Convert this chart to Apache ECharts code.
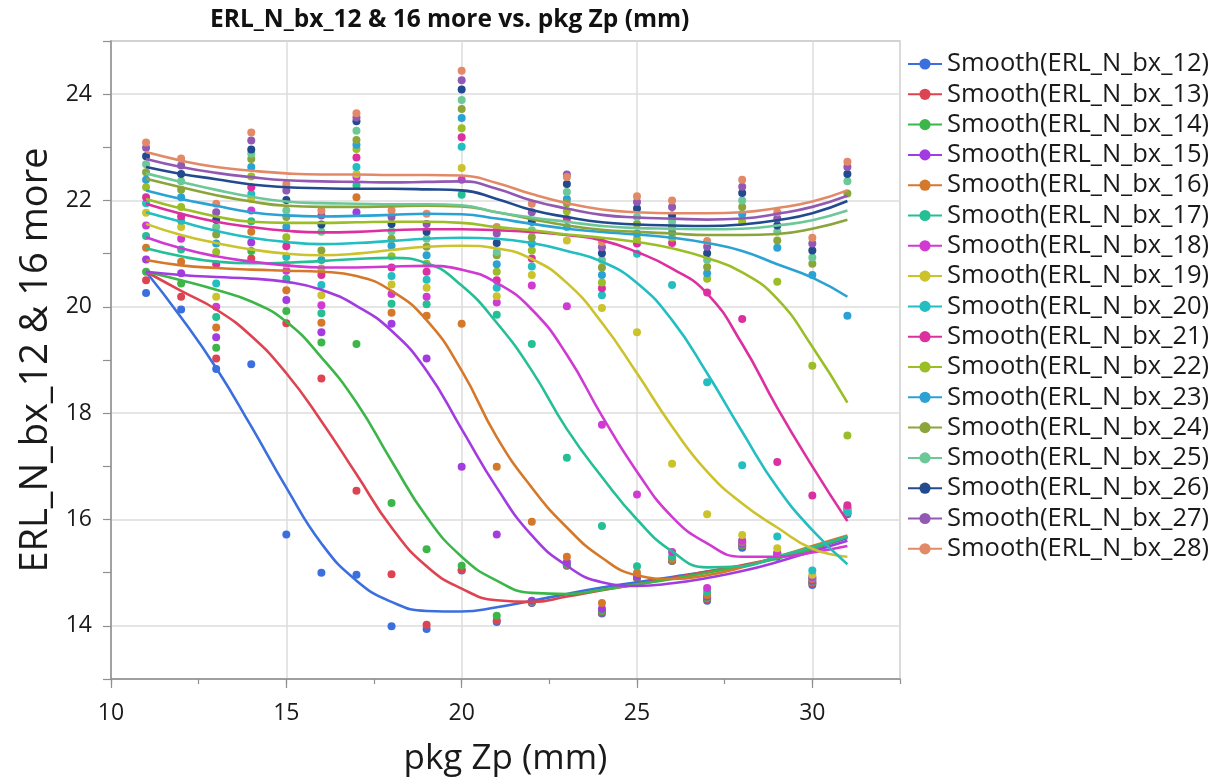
<!DOCTYPE html>
<html lang="en">
<head>
<meta charset="UTF-8">
<title>ERL_N_bx_12 &amp; 16 more vs. pkg Zp (mm)</title>
<script src="https://cdn.jsdelivr.net/npm/echarts@6.0.0/dist/echarts.min.js"></script>
<style>
    html, body { margin: 0; padding: 0; background: #fff; }
    #chart { width: 1215px; height: 782px; }
</style>
</head>
<body>
<div id="chart"></div>
<script>
    // pkg Zp (mm) columns
    const zp = [11, 12, 13, 14, 15, 16, 17, 18, 19, 20, 21, 22, 23, 24, 25, 26, 27, 28, 29, 30, 31];

    // measured points, one array per ERL_N_bx_nn
    const pts12 = [20.26, 19.95, 18.83, 18.92, 15.72, 15.0, 14.96, 13.99, 13.94, 15.04, 14.07, 14.43, 15.13, 14.23, 14.9, 15.22, 14.47, 15.47, 15.3, 14.77, 16.1];
    const pts13 = [20.5, 20.19, 19.03, 20.91, 19.69, 18.65, 16.54, 14.97, 14.02, 15.05, 14.1, 14.44, 15.14, 14.25, 14.9, 15.23, 14.5, 15.5, 15.32, 14.8, 16.12];
    const pts14 = [20.66, 20.44, 19.23, 21.05, 19.92, 19.33, 19.3, 16.31, 15.44, 15.13, 14.19, 14.45, 15.15, 14.28, 14.92, 15.23, 14.52, 15.52, 15.33, 14.82, 16.14];
    const pts15 = [20.89, 20.63, 19.43, 21.21, 20.13, 19.52, 21.78, 19.68, 19.03, 16.99, 15.72, 14.47, 15.2, 14.32, 14.93, 15.24, 14.55, 15.55, 15.34, 14.85, 16.16];
    const pts16 = [21.11, 20.85, 19.61, 21.41, 20.31, 19.7, 22.06, 19.89, 19.83, 19.68, 16.99, 15.96, 15.3, 14.43, 15.0, 15.25, 14.58, 15.57, 15.35, 14.88, 16.18];
    const pts17 = [21.33, 21.08, 19.81, 21.61, 20.53, 19.88, 22.28, 20.06, 20.05, 22.11, 19.85, 19.3, 17.16, 15.88, 15.12, 15.3, 14.64, 15.6, 15.36, 14.9, 16.2];
    const pts18 = [21.53, 21.28, 20.0, 21.81, 20.68, 20.03, 22.44, 20.24, 20.19, 22.39, 20.08, 20.4, 20.01, 17.78, 16.47, 15.39, 14.71, 15.6, 15.37, 14.92, 16.22];
    const pts19 = [21.77, 21.5, 20.19, 22.03, 20.8, 20.22, 22.5, 20.42, 20.36, 22.61, 20.2, 20.6, 21.25, 19.98, 19.52, 17.05, 16.1, 15.71, 15.46, 14.96, 16.15];
    const pts20 = [21.95, 21.62, 20.44, 22.12, 20.94, 20.41, 22.63, 20.58, 20.51, 23.01, 20.36, 20.76, 21.5, 20.22, 21.0, 20.41, 18.58, 17.02, 15.68, 15.04, 16.13];
    const pts21 = [22.06, 21.7, 20.8, 22.25, 21.14, 20.6, 22.81, 20.74, 20.66, 23.19, 20.5, 20.91, 21.65, 20.35, 21.19, 21.2, 20.27, 19.77, 17.08, 16.45, 16.27];
    const pts22 = [22.25, 21.88, 21.03, 22.45, 21.31, 20.72, 22.97, 20.95, 20.81, 23.36, 20.66, 21.06, 21.8, 20.46, 21.28, 21.3, 20.53, 21.6, 20.47, 18.89, 17.58];
    const pts23 = [22.39, 22.06, 21.19, 22.63, 21.5, 20.88, 23.05, 21.15, 20.97, 23.55, 20.8, 21.19, 22.03, 20.6, 21.38, 21.4, 20.63, 21.74, 21.11, 20.6, 19.83];
    const pts24 = [22.53, 22.2, 21.36, 22.78, 21.69, 21.06, 23.14, 21.28, 21.13, 23.72, 20.97, 21.31, 21.95, 20.74, 21.56, 21.5, 20.75, 21.88, 21.25, 20.81, 22.13];
    const pts25 = [22.68, 22.36, 21.5, 22.88, 21.81, 21.41, 23.31, 21.42, 21.28, 23.89, 21.03, 21.44, 22.16, 20.88, 21.69, 21.6, 20.88, 22.0, 21.41, 20.93, 22.36];
    const pts26 = [22.83, 22.5, 21.64, 22.96, 22.01, 21.55, 23.49, 21.56, 21.41, 24.09, 21.2, 21.6, 22.31, 21.01, 21.85, 21.72, 21.01, 22.14, 21.53, 21.06, 22.5];
    const pts27 = [22.99, 22.66, 21.78, 23.13, 22.19, 21.72, 23.56, 21.69, 21.56, 24.26, 21.38, 21.78, 22.49, 21.12, 21.97, 21.88, 21.13, 22.26, 21.66, 21.19, 22.63];
    const pts28 = [23.09, 22.79, 21.94, 23.28, 22.31, 21.81, 23.64, 21.81, 21.75, 24.44, 21.5, 21.94, 22.44, 21.22, 22.08, 22.0, 21.24, 22.39, 21.78, 21.3, 22.73];

    // smoother values at each column
    const fit12 = [20.66, 19.8, 18.85, 17.75, 16.6, 15.55, 14.85, 14.45, 14.28, 14.27, 14.35, 14.47, 14.6, 14.72, 14.82, 14.92, 15.02, 15.13, 15.27, 15.45, 15.65];
    const fit13 = [20.66, 20.3, 19.95, 19.45, 18.75, 17.85, 16.85, 15.85, 15.12, 14.7, 14.48, 14.45, 14.55, 14.67, 14.78, 14.9, 15.02, 15.14, 15.28, 15.45, 15.68];
    const fit14 = [20.66, 20.5, 20.32, 20.1, 19.72, 19.05, 18.2, 17.1, 16.05, 15.3, 14.85, 14.62, 14.6, 14.68, 14.78, 14.88, 15.0, 15.12, 15.27, 15.45, 15.68];
    const fit15 = [20.66, 20.6, 20.56, 20.53, 20.47, 20.32, 20.02, 19.55, 18.8, 17.7, 16.6, 15.7, 15.13, 14.82, 14.75, 14.8, 14.9, 15.03, 15.2, 15.4, 15.6];
    const fit16 = [20.88, 20.78, 20.73, 20.7, 20.68, 20.66, 20.58, 20.3, 19.75, 18.8, 17.55, 16.6, 15.85, 15.28, 14.95, 14.88, 14.95, 15.1, 15.3, 15.5, 15.7];
    const fit17 = [21.1, 20.95, 20.85, 20.82, 20.83, 20.86, 20.9, 20.92, 20.82, 20.4, 19.7, 18.8, 17.7, 16.8, 16.0, 15.4, 15.1, 15.12, 15.3, 15.48, 15.68];
    const fit18 = [21.31, 21.1, 20.95, 20.85, 20.78, 20.74, 20.74, 20.76, 20.77, 20.7, 20.45, 19.95, 19.1, 17.95, 16.9, 16.05, 15.55, 15.3, 15.3, 15.38, 15.5];
    const fit19 = [21.56, 21.35, 21.2, 21.08, 21.0, 20.97, 21.0, 21.07, 21.13, 21.15, 21.1, 20.9, 20.45, 19.7, 18.75, 17.75, 16.9, 16.3, 15.85, 15.45, 15.3];
    const fit20 = [21.78, 21.6, 21.43, 21.3, 21.22, 21.18, 21.2, 21.24, 21.28, 21.3, 21.28, 21.2, 21.05, 20.85, 20.45, 19.75, 18.75, 17.65, 16.6, 15.8, 15.16];
    const fit21 = [21.94, 21.75, 21.6, 21.5, 21.43, 21.4, 21.41, 21.44, 21.46, 21.46, 21.44, 21.41, 21.35, 21.25, 21.03, 20.72, 20.25, 19.3, 18.1, 17.0, 15.97];
    const fit22 = [22.03, 21.85, 21.7, 21.6, 21.58, 21.58, 21.59, 21.6, 21.6, 21.58, 21.5, 21.44, 21.36, 21.3, 21.22, 21.1, 20.92, 20.65, 20.15, 19.25, 18.2];
    const fit23 = [22.19, 22.03, 21.9, 21.78, 21.72, 21.7, 21.71, 21.73, 21.75, 21.74, 21.66, 21.56, 21.47, 21.41, 21.36, 21.3, 21.2, 21.05, 20.8, 20.55, 20.19];
    const fit24 = [22.41, 22.25, 22.1, 21.98, 21.9, 21.88, 21.88, 21.89, 21.9, 21.89, 21.78, 21.65, 21.53, 21.45, 21.41, 21.38, 21.35, 21.35, 21.37, 21.47, 21.64];
    const fit25 = [22.51, 22.35, 22.2, 22.07, 21.98, 21.95, 21.94, 21.93, 21.93, 21.91, 21.78, 21.68, 21.6, 21.52, 21.48, 21.47, 21.46, 21.47, 21.53, 21.63, 21.81];
    const fit26 = [22.63, 22.5, 22.4, 22.3, 22.25, 22.23, 22.22, 22.22, 22.21, 22.19, 22.03, 21.82, 21.69, 21.59, 21.55, 21.53, 21.52, 21.55, 21.63, 21.76, 21.99];
    const fit27 = [22.78, 22.63, 22.52, 22.44, 22.38, 22.36, 22.35, 22.34, 22.35, 22.36, 22.22, 22.0, 21.85, 21.73, 21.68, 21.66, 21.64, 21.66, 21.75, 21.88, 22.09];
    const fit28 = [22.91, 22.75, 22.63, 22.56, 22.51, 22.49, 22.49, 22.48, 22.48, 22.47, 22.33, 22.12, 21.95, 21.83, 21.78, 21.76, 21.76, 21.78, 21.86, 21.98, 22.19];

    const bxIds = [12, 13, 14, 15, 16, 17, 18, 19, 20, 21, 22, 23, 24, 25, 26, 27, 28];
    const bxColors = ['#3c6fde', '#dd4350', '#3db649', '#a33ce0', '#d6782a', '#24bf95', '#d03ad3', '#ccc22c',
        '#22bec2', '#dc2fa0', '#9bbe27', '#2aa2d4', '#8ba53a', '#6dc898', '#224a8f', '#9159b3', '#e28a68'];
    const ptsList = [pts12, pts13, pts14, pts15, pts16, pts17, pts18, pts19, pts20, pts21, pts22, pts23, pts24, pts25, pts26, pts27, pts28];
    const fitList = [fit12, fit13, fit14, fit15, fit16, fit17, fit18, fit19, fit20, fit21, fit22, fit23, fit24, fit25, fit26, fit27, fit28];

    const fontName = '"Open Sans", "Noto Sans", sans-serif';
    const axisGray = '#8f8f8f';
    const gridGray = '#dcdcdc';

    const chart = echarts.init(document.getElementById('chart'));

    let series = [];
    // dots first, smoothers drawn on top
    bxIds.forEach((id, i) => {
        series.push({
            name: 'ERL_N_bx_' + id,
            type: 'scatter',
            data: zp.map((x, j) => [x, ptsList[i][j]]),
            symbolSize: 8,
            itemStyle: {color: bxColors[i], opacity: 1},
            silent: true,
            z: 2
        });
    });
    bxIds.forEach((id, i) => {
        series.push({
            name: 'Smooth(ERL_N_bx_' + id + ')',
            type: 'line',
            data: zp.map((x, j) => [x, fitList[i][j]]),
            smooth: 0.5,
            symbol: 'none',
            showSymbol: false,
            lineStyle: {color: bxColors[i], width: 2.6},
            itemStyle: {color: bxColors[i]},
            silent: true,
            z: 3
        });
    });

    const option = {
        animation: false,
        backgroundColor: '#fff',
        title: {
            text: 'ERL_N_bx_12 & 16 more vs. pkg Zp (mm)',
            left: 205,
            top: 3,
            textStyle: {fontFamily: fontName, fontSize: 24.5, fontWeight: 'bold', color: '#111'}
        },
        legend: {
            orient: 'vertical',
            left: 902,
            top: 46,
            data: bxIds.map(id => 'Smooth(ERL_N_bx_' + id + ')'),
            itemWidth: 34,
            itemHeight: 14,
            itemGap: 4.3,
            selectedMode: false,
            textStyle: {fontFamily: fontName, fontSize: 25.5, color: '#1a1a1a', lineHeight: 25}
        },
        grid: {
            left: 111, right: 315, top: 41, bottom: 101,
            show: true, borderColor: '#c4c4c4', borderWidth: 1.5
        },
        xAxis: [{
            type: 'value',
            min: 10, max: 32.5, interval: 5,
            name: 'pkg Zp (mm)',
            nameLocation: 'middle',
            nameGap: 63,
            nameTextStyle: {fontFamily: fontName, fontSize: 35, color: '#1a1a1a'},
            axisLine: {onZero: false, lineStyle: {color: axisGray, width: 1.5}},
            axisTick: {length: 9, lineStyle: {color: axisGray, width: 1.2}},
            axisLabel: {fontFamily: fontName, fontSize: 23, color: '#1a1a1a', margin: 23, showMaxLabel: false},
            splitLine: {show: true, lineStyle: {color: gridGray, width: 1.5}}
        }, {
            // short ticks every 2.5
            type: 'value', position: 'bottom',
            min: 10, max: 32.5, interval: 2.5,
            axisLine: {show: false},
            axisTick: {length: 5, lineStyle: {color: axisGray, width: 1.2}},
            axisLabel: {show: false},
            splitLine: {show: false}
        }],
        yAxis: {
            type: 'value',
            min: 13, max: 25, interval: 1,
            name: 'ERL_N_bx_12 & 16 more',
            nameLocation: 'middle',
            nameGap: 50,
            nameTextStyle: {fontFamily: fontName, fontSize: 38, color: '#1a1a1a'},
            axisLine: {show: true, lineStyle: {color: axisGray, width: 1.5}},
            axisTick: {show: true, length: 8, lineStyle: {color: axisGray, width: 1.2}},
            axisLabel: {
                fontFamily: fontName, fontSize: 23, color: '#1a1a1a', margin: 19,
                formatter: v => (v % 2 === 0 ? String(v) : '')
            },
            splitLine: {show: true, lineStyle: {color: ['rgba(0,0,0,0)', gridGray], width: 1.5}}
        },
        series: series
    };
    chart.setOption(option);
</script>
</body>
</html>
